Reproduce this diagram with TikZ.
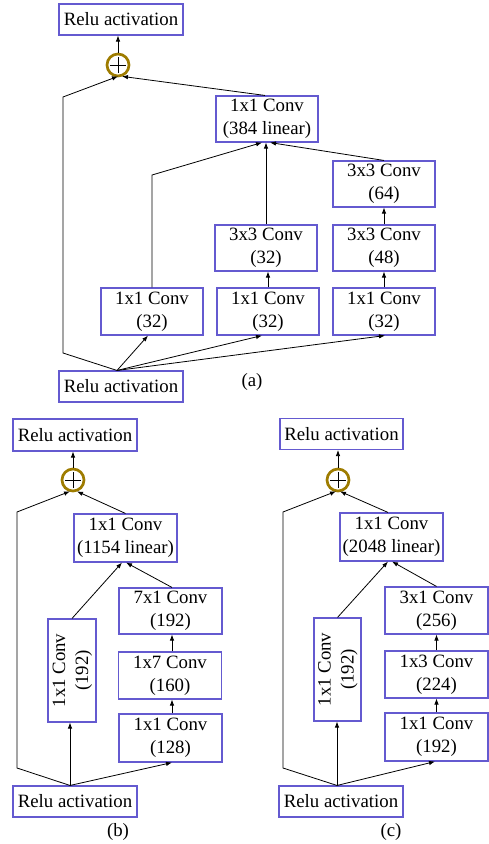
\documentclass[tikz,border=0pt]{standalone}
\usepackage{fontspec}
\setmainfont{Liberation Serif}
\usepackage{graphicx}
\usetikzlibrary{arrows.meta,calc}
\definecolor{boxblue}{RGB}{100,90,208}
\definecolor{ringgold}{RGB}{158,124,0}
\begin{document}
\begin{tikzpicture}[x=1pt,y=-1pt,
  font=\fontsize{18.8}{23}\selectfont,
  blk/.style={draw=boxblue, line width=1.1pt, fill=white, inner sep=0pt,
    align=center, minimum width=102pt, minimum height=47pt},
  relu/.style={blk, minimum width=124pt, minimum height=31pt},
  vblk/.style={blk, minimum width=47pt, minimum height=103pt},
  addring/.style={circle, draw=ringgold, line width=2.7pt, minimum size=22pt,
    inner sep=0pt,
    path picture={\draw[black,line width=0.9pt]
      ([xshift=-8pt]path picture bounding box.center) --
      ([xshift=8pt]path picture bounding box.center)
      ([yshift=-8pt]path picture bounding box.center) --
      ([yshift=8pt]path picture bounding box.center);}},
  arr/.style={-{Latex[length=6pt,width=4.5pt]}, line width=0.8pt}]
\useasboundingbox (0,0) rectangle (489,844);

% ---------------- (a) ----------------
\node[relu] (aTop) at (121,19.5) {Relu activation};
\node[addring] (aPlus) at (118,65) {};
\node[blk, minimum height=46pt] (aOut) at (267,119) {1x1 Conv\\(384 linear)};
\node[blk, minimum height=46pt] (a64) at (384,184) {3x3 Conv\\(64)};
\node[blk, minimum height=46pt] (a32b) at (266,248) {3x3 Conv\\(32)};
\node[blk, minimum height=46pt] (a48) at (384,248) {3x3 Conv\\(48)};
\node[blk] (a1) at (152,311.5) {1x1 Conv\\(32)};
\node[blk] (a2) at (268,311.5) {1x1 Conv\\(32)};
\node[blk] (a3) at (384,311.5) {1x1 Conv\\(32)};
\node[relu] (aIn) at (121,386.5) {Relu activation};
\node (labA) at (252,382) {(a)};

\coordinate (aSrc) at ($(aIn.north)+(-4,0)$);
\coordinate (aL1) at (63,353);
\coordinate (aL2) at (63,97);
\coordinate (aK) at (152,175);

\draw[arr] (aPlus.north) -- (aPlus.north |- aTop.south);
\draw[arr] (aSrc) -- (aL1) -- (aL2) -- ($(aPlus.south)+(0,-1)$);
\draw[arr] (aOut.north -| 265,0) -- ($(aPlus.south)+(4,-1)$);
\draw[arr] (aSrc) -- ($(a1.south)+(-4,0)$);
\draw[arr] (aSrc) -- ($(a2.south)+(-6,0)$);
\draw[arr] (aSrc) -- ($(a3.south)+(1,0)$);
\draw[arr] (a1.north) -- (aK) -- ($(aOut.south)+(-5,0)$);
\draw[arr] (a32b.north) -- (a32b.north |- aOut.south);
\draw[arr] (a64.north) -- ($(aOut.south)+(3,0)$);
\draw[arr] (a2.north) -- (a32b.south -| a2.north);
\draw[arr] (a3.north) -- (a48.south);
\draw[arr] (a48.north) -- (a64.south);

% ---------------- (b) ----------------
\node[relu, minimum height=32pt] (bTop) at (75,435) {Relu activation};
\node[addring] (bPlus) at (73,480) {};
\node[blk, minimum width=103pt, minimum height=48pt] (bOut) at (125.5,538) {1x1 Conv\\(1154 linear)};
\node[blk, minimum width=103pt, minimum height=46pt] (b7) at (170.5,611) {7x1 Conv\\(192)};
\node[vblk, minimum width=48pt] (bV) at (72,670.5) {\rotatebox{90}{\begin{tabular}{@{}c@{}}1x1 Conv\\(192)\end{tabular}}};
\node[blk, minimum width=103pt] (b17) at (170,675.5) {1x7 Conv\\(160)};
\node[blk, minimum width=103pt, minimum height=48pt] (b128) at (170.5,738) {1x1 Conv\\(128)};
\node[relu] (bIn) at (75,801.5) {Relu activation};
\node (labB) at (118,832) {(b)};

\coordinate (bSrc) at ($(bIn.north)+(-5,0)$);
\coordinate (bL1) at (17,768);
\coordinate (bL2) at (17,512);

\draw[arr] (bPlus.north) -- (bPlus.north |- bTop.south);
\draw[arr] (bSrc) -- (bL1) -- (bL2) -- ($(bPlus.south)+(-3,-1)$);
\draw[arr] (bOut.north) -- ($(bPlus.south)+(4,-1)$);
\draw[arr] (bSrc) -- (bSrc |- bV.south);
\draw[arr] (bSrc) -- ($(b128.south)+(1.5,0)$);
\draw[arr] (bV.north) -- ($(bOut.south)+(-3.5,0)$);
\draw[arr] ($(b7.north)+(1.5,0)$) -- ($(bOut.south)+(0.5,0)$);
\draw[arr] ($(b128.north)+(1.5,0)$) -- ($(b17.south)+(2,0)$);
\draw[arr] ($(b17.north)+(2,0)$) -- ($(b7.south)+(1.5,0)$);

% ---------------- (c) ----------------
\node[relu, minimum width=123pt] (cTop) at (341.5,434) {Relu activation};
\node[addring] (cPlus) at (338,480) {};
\node[blk, minimum width=103pt, minimum height=48pt] (cOut) at (391.5,537) {1x1 Conv\\(2048 linear)};
\node[blk, minimum width=103pt] (c31) at (436.5,610.5) {3x1 Conv\\(256)};
\node[vblk] (cV) at (337.5,669.5) {\rotatebox{90}{\begin{tabular}{@{}c@{}}1x1 Conv\\(192)\end{tabular}}};
\node[blk, minimum width=103pt] (c13) at (436.5,674.5) {1x3 Conv\\(224)};
\node[blk, minimum width=103pt, minimum height=48pt] (c192) at (436.5,737) {1x1 Conv\\(192)};
\node[relu] (cIn) at (341,801.5) {Relu activation};
\node (labC) at (391,832) {(c)};

\coordinate (cSrc) at ($(cIn.north)+(-4,0)$);
\coordinate (cL1) at (283,768);
\coordinate (cL2) at (283,512);

\draw[arr] (cPlus.north) -- (cPlus.north |- cTop.south);
\draw[arr] (cSrc) -- (cL1) -- (cL2) -- ($(cPlus.south)+(-2,-1)$);
\draw[arr] ($(cOut.north)+(-3.5,0)$) -- ($(cPlus.south)+(2,-1)$);
\draw[arr] (cSrc) -- (cSrc |- cV.south);
\draw[arr] (cSrc) -- ($(c192.south)+(-1.5,0)$);
\draw[arr] (cV.north) -- ($(cOut.south)+(-3.5,0)$);
\draw[arr] (c31.north) -- ($(cOut.south)+(0.5,0)$);
\draw[arr] (c192.north) -- (c13.south);
\draw[arr] (c13.north) -- (c31.south);
\end{tikzpicture}
\end{document}
